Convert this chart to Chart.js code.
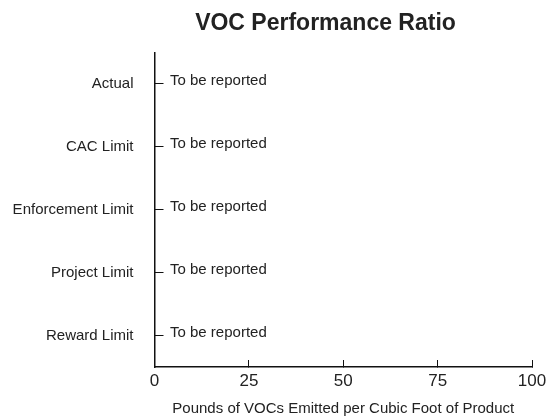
<!DOCTYPE html>
<html>
<head>
<meta charset="utf-8">
<title>VOC Performance Ratio</title>
<script src="https://cdn.jsdelivr.net/npm/chart.js@4/dist/chart.umd.min.js"></script>
<style>
  html, body { margin: 0; padding: 0; background: #fff; }
  #wrap { width: 548px; height: 416px; }
</style>
</head>
<body>
<div id="wrap"><canvas id="chart" width="548" height="416"></canvas></div>
<script>
// chart data
const categories = ['Actual', 'CAC Limit', 'Enforcement Limit', 'Project Limit', 'Reward Limit'];
const values = [0, 0, 0, 0, 0];
const valueLabels = ['To be reported', 'To be reported', 'To be reported', 'To be reported', 'To be reported'];
const xTicks = [0, 25, 50, 75, 100];

const chartTitle = 'VOC Performance Ratio';
const xTitle = 'Pounds of VOCs Emitted per Cubic Foot of Product';

const FONT = '"Liberation Sans", Arial, Helvetica, sans-serif';
const INK = '#222';
const AXIS = '#111';

// title is not centred on the canvas in the original, so draw it ourselves
const titlePlugin = {
    id: 'offsetTitle',
    afterDraw(chart) {
        const ctx = chart.ctx;
        ctx.save();
        ctx.font = 'bold 23px ' + FONT;
        ctx.fillStyle = INK;
        ctx.textAlign = 'center';
        ctx.textBaseline = 'alphabetic';
        ctx.fillText(chartTitle, 325.5, 30);
        ctx.restore();
    }
};

// "To be reported" text next to each (empty) bar
const valueLabelPlugin = {
    id: 'valueLabels',
    afterDatasetsDraw(chart) {
        const ctx = chart.ctx;
        const meta = chart.getDatasetMeta(0);
        ctx.save();
        ctx.font = '15px ' + FONT;
        ctx.fillStyle = INK;
        ctx.textAlign = 'left';
        ctx.textBaseline = 'alphabetic';
        meta.data.forEach((bar, i) => {
            ctx.fillText(valueLabels[i], bar.x + 15.5, bar.y + 1.5);
        });
        ctx.restore();
    }
};

new Chart(document.getElementById('chart').getContext('2d'), {
    type: 'bar',
    data: {
        labels: categories,
        datasets: [{
            data: values,
            backgroundColor: '#4e73df',
            borderWidth: 0
        }]
    },
    options: {
        indexAxis: 'y',
        responsive: false,
        animation: false,
        layout: {
            padding: { top: 52.3, left: 12.5, right: 16, bottom: 0 }
        },
        plugins: {
            legend: { display: false },
            tooltip: { enabled: false },
            title: { display: false }
        },
        scales: {
            x: {
                min: xTicks[0],
                max: xTicks[xTicks.length - 1],
                afterBuildTicks: (scale) => {
                    scale.ticks = xTicks.map(v => ({ value: v }));
                },
                // fixed axis box so the plot area lines up with the original
                afterFit: (scale) => {
                    scale.height = 49;
                    scale.paddingLeft = 0;
                    scale.paddingRight = 0;
                },
                grid: {
                    drawOnChartArea: false,
                    tickLength: -7,
                    tickColor: AXIS,
                    tickWidth: 1
                },
                border: { color: AXIS, width: 1.5 },
                ticks: {
                    padding: 11,
                    color: INK,
                    font: { family: FONT, size: 17 }
                },
                title: {
                    display: true,
                    text: xTitle,
                    color: INK,
                    font: { family: FONT, size: 15 },
                    padding: { top: 8, bottom: -2 }
                }
            },
            y: {
                offset: true,
                afterFit: (scale) => {
                    scale.width = 142;
                    scale.paddingTop = 0;
                    scale.paddingBottom = 0;
                },
                grid: {
                    offset: false,
                    drawOnChartArea: false,
                    tickLength: -9,
                    tickColor: AXIS,
                    tickWidth: 1
                },
                border: { color: AXIS, width: 1.5 },
                ticks: {
                    padding: 30,
                    color: INK,
                    font: { family: FONT, size: 15 }
                }
            }
        }
    },
    plugins: [titlePlugin, valueLabelPlugin]
});
</script>
</body>
</html>
